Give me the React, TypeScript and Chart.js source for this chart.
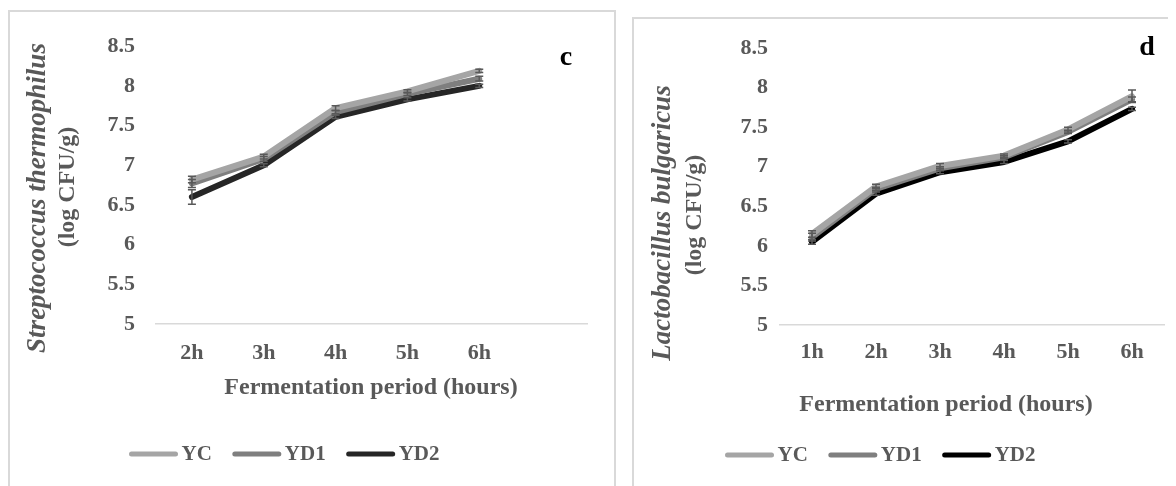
import React, { useEffect, useRef } from "react";
import { Chart, registerables } from "chart.js";

Chart.register(...registerables);

// ---- Data: panel c (Streptococcus thermophilus) ----
const catsC = ["2h", "3h", "4h", "5h", "6h", ""];
const ycC = [6.82, 7.11, 7.72, 7.93, 8.19, null];
const yd1C = [6.77, 7.08, 7.67, 7.9, 8.09, null];
const yd2C = [6.6, 7.0, 7.61, 7.83, 8.0, null];
const ycErrC = [0.04, 0.03, 0.03, 0.02, 0.02, 0];
const yd1ErrC = [0.05, 0.03, 0.02, 0.02, 0.03, 0];
const yd2ErrC = [0.09, 0.02, 0.02, 0.02, 0.02, 0];

// ---- Data: panel d (Lactobacillus bulgaricus) ----
const catsD = ["1h", "2h", "3h", "4h", "5h", "6h"];
const ycD = [6.15, 6.75, 7.01, 7.14, 7.47, 7.89];
const yd1D = [6.11, 6.72, 6.98, 7.12, 7.44, 7.85];
const yd2D = [6.05, 6.66, 6.93, 7.06, 7.32, 7.73];
const ycErrD = [0.04, 0.03, 0.03, 0.02, 0.03, 0.08];
const yd1ErrD = [0.05, 0.02, 0.02, 0.02, 0.02, 0.03];
const yd2ErrD = [0.03, 0.02, 0.02, 0.02, 0.02, 0.02];

const seriesNames = ["YC", "YD1", "YD2"];
const yMin = 5;
const yMax = 8.5;
const yStep = 0.5;

const FONT = "'Liberation Serif', 'Times New Roman', serif";
const GRAY = "#595959";

const decorPlugin = {
  id: "decor",
  afterDatasetsDraw(chart: any) {
    const ctx = chart.ctx;
    const y = chart.scales.y;
    const x = chart.scales.x;
    // error bars
    ctx.save();
    ctx.strokeStyle = GRAY;
    ctx.lineWidth = 1.5;
    chart.data.datasets.forEach((ds: any) => {
      (ds.data as any[]).forEach((v, i) => {
        if (v == null) return;
        const e = ds.errors ? ds.errors[i] : 0;
        if (!e) return;
        const px = x.getPixelForValue(i);
        const y1 = y.getPixelForValue(v - e);
        const y2 = y.getPixelForValue(v + e);
        ctx.beginPath();
        ctx.moveTo(px, y1);
        ctx.lineTo(px, y2);
        ctx.moveTo(px - 4, y1);
        ctx.lineTo(px + 4, y1);
        ctx.moveTo(px - 4, y2);
        ctx.lineTo(px + 4, y2);
        ctx.stroke();
      });
    });
    ctx.restore();
  },
  afterDraw(chart: any, _args: any, opts: any) {
    const ctx = chart.ctx;
    ctx.save();
    // y title (two lines, rotated)
    const yt = opts.yTitle;
    ctx.fillStyle = GRAY;
    ctx.textAlign = "center";
    ctx.textBaseline = "middle";
    yt.lines.forEach((ln: any) => {
      ctx.save();
      ctx.translate(ln.x, ln.cy);
      ctx.rotate(-Math.PI / 2);
      ctx.font = ln.font;
      ctx.fillText(ln.text, 0, 0);
      ctx.restore();
    });
    // x title
    const xt = opts.xTitle;
    ctx.font = `bold 24px ${FONT}`;
    ctx.fillText(xt.text, xt.cx, xt.cy);
    // panel letter
    const lt = opts.letter;
    ctx.fillStyle = "#000000";
    ctx.font = `bold 28px ${FONT}`;
    ctx.fillText(lt.text, lt.x, lt.y);
    // legend
    const lg = opts.legend;
    ctx.font = `bold 21px ${FONT}`;
    const lineW = 50;
    const gapT = 3;
    const gapI = 20;
    const items = chart.data.datasets.map((ds: any) => ({
      label: ds.label,
      color: ds.borderColor,
      w: lineW + gapT + ctx.measureText(ds.label).width,
    }));
    const total = items.reduce((a: number, it: any) => a + it.w, 0) + gapI * (items.length - 1);
    let cx = lg.cx - total / 2;
    items.forEach((it: any) => {
      ctx.strokeStyle = it.color;
      ctx.lineWidth = 5;
      ctx.lineCap = "round";
      ctx.beginPath();
      ctx.moveTo(cx + 3, lg.y);
      ctx.lineTo(cx + lineW - 3, lg.y);
      ctx.stroke();
      ctx.fillStyle = GRAY;
      ctx.textAlign = "left";
      ctx.fillText(it.label, cx + lineW + gapT, lg.y + 1);
      cx += it.w + gapI;
    });
    ctx.restore();
  },
};

type PanelCfg = {
  cats: string[];
  series: (number | null)[][];
  errors: number[][];
  colors: string[];
  yAxisWidth: number;
  xAxisHeight: number;
  padTop: number;
  padRight: number;
  yTickPad: number;
  xTickPad: number;
  decor: any;
};

function makeConfig(p: PanelCfg): any {
  return {
    type: "line",
    data: {
      labels: p.cats,
      datasets: p.series.map((s, i) => ({
        label: seriesNames[i],
        data: s,
        errors: p.errors[i],
        borderColor: p.colors[i],
        backgroundColor: p.colors[i],
        borderWidth: 6,
        pointRadius: 0,
        tension: 0,
        borderCapStyle: "round",
        borderJoinStyle: "round",
        spanGaps: false,
      })),
    },
    options: {
      animation: false,
      responsive: false,
      layout: { padding: { top: p.padTop, right: p.padRight, left: 0, bottom: 0 } },
      plugins: {
        legend: { display: false },
        tooltip: { enabled: false },
        decor: p.decor,
      },
      scales: {
        x: {
          type: "category",
          offset: true,
          grid: { display: false, drawTicks: false },
          border: { display: true, color: "#D9D9D9", width: 1.5 },
          ticks: {
            padding: p.xTickPad,
            color: GRAY,
            font: { family: FONT, size: 22, weight: "bold" },
            maxRotation: 0,
            autoSkip: false,
          },
          afterFit: (s: any) => {
            s.height = p.xAxisHeight;
          },
        },
        y: {
          min: yMin,
          max: yMax,
          grid: { display: false, drawTicks: false },
          border: { display: false },
          ticks: {
            stepSize: yStep,
            padding: p.yTickPad,
            color: GRAY,
            font: { family: FONT, size: 22, weight: "bold" },
            callback: (v: any) => String(parseFloat(Number(v).toFixed(1))),
          },
          afterFit: (s: any) => {
            s.width = p.yAxisWidth;
          },
        },
      },
    },
    plugins: [decorPlugin],
  };
}

function ChartCanvas({ cfg, width, height }: { cfg: any; width: number; height: number }) {
  const ref = useRef<HTMLCanvasElement | null>(null);
  useEffect(() => {
    if (!ref.current) return;
    const ch = new Chart(ref.current, cfg);
    return () => ch.destroy();
  }, [cfg]);
  return <canvas ref={ref} width={width} height={height} style={{ display: "block", width, height }} />;
}

const cfgC = makeConfig({
  cats: catsC,
  series: [ycC, yd1C, yd2C],
  errors: [ycErrC, yd1ErrC, yd2ErrC],
  colors: ["#A5A5A5", "#7F7F7F", "#262626"],
  yAxisWidth: 146,
  xAxisHeight: 162,
  padTop: 25,
  padRight: 27,
  yTickPad: 21,
  xTickPad: 16,
  decor: {
    yTitle: {
      lines: [
        { text: "Streptococcus thermophilus", font: `italic bold 27px ${FONT}`, x: 28, cy: 186 },
        { text: "(log CFU/g)", font: `bold 24px ${FONT}`, x: 58, cy: 175 },
      ],
    },
    xTitle: { text: "Fermentation period (hours)", cx: 361, cy: 376 },
    letter: { text: "c", x: 556, y: 46 },
    legend: { cx: 274, y: 442 },
  },
});

const cfgD = makeConfig({
  cats: catsD,
  series: [ycD, yd1D, yd2D],
  errors: [ycErrD, yd1ErrD, yd2ErrD],
  colors: ["#A5A5A5", "#7F7F7F", "#000000"],
  yAxisWidth: 146,
  xAxisHeight: 168,
  padTop: 29,
  padRight: 30,
  yTickPad: 12,
  xTickPad: 14,
  decor: {
    yTitle: {
      lines: [
        { text: "Lactobacillus bulgaricus", font: `italic bold 27px ${FONT}`, x: 29, cy: 204 },
        { text: "(log CFU/g)", font: `bold 24px ${FONT}`, x: 61, cy: 196 },
      ],
    },
    xTitle: { text: "Fermentation period (hours)", cx: 312, cy: 386 },
    letter: { text: "d", x: 513, y: 29 },
    legend: { cx: 246, y: 436 },
  },
});

export default function App() {
  return (
    <div style={{ position: "relative", width: 1168, height: 478, overflow: "hidden", background: "#fff" }}>
      <div
        style={{
          position: "absolute",
          left: 0,
          top: 2,
          width: 604,
          height: 500,
          border: "2px solid #D9D9D9",
          boxSizing: "content-box",
        }}
      >
        <ChartCanvas cfg={cfgC} width={604} height={474} />
      </div>
      <div
        style={{
          position: "absolute",
          left: 624,
          top: 9,
          width: 600,
          height: 500,
          border: "2px solid #D9D9D9",
          boxSizing: "content-box",
        }}
      >
        <ChartCanvas cfg={cfgD} width={560} height={474} />
      </div>
    </div>
  );
}
